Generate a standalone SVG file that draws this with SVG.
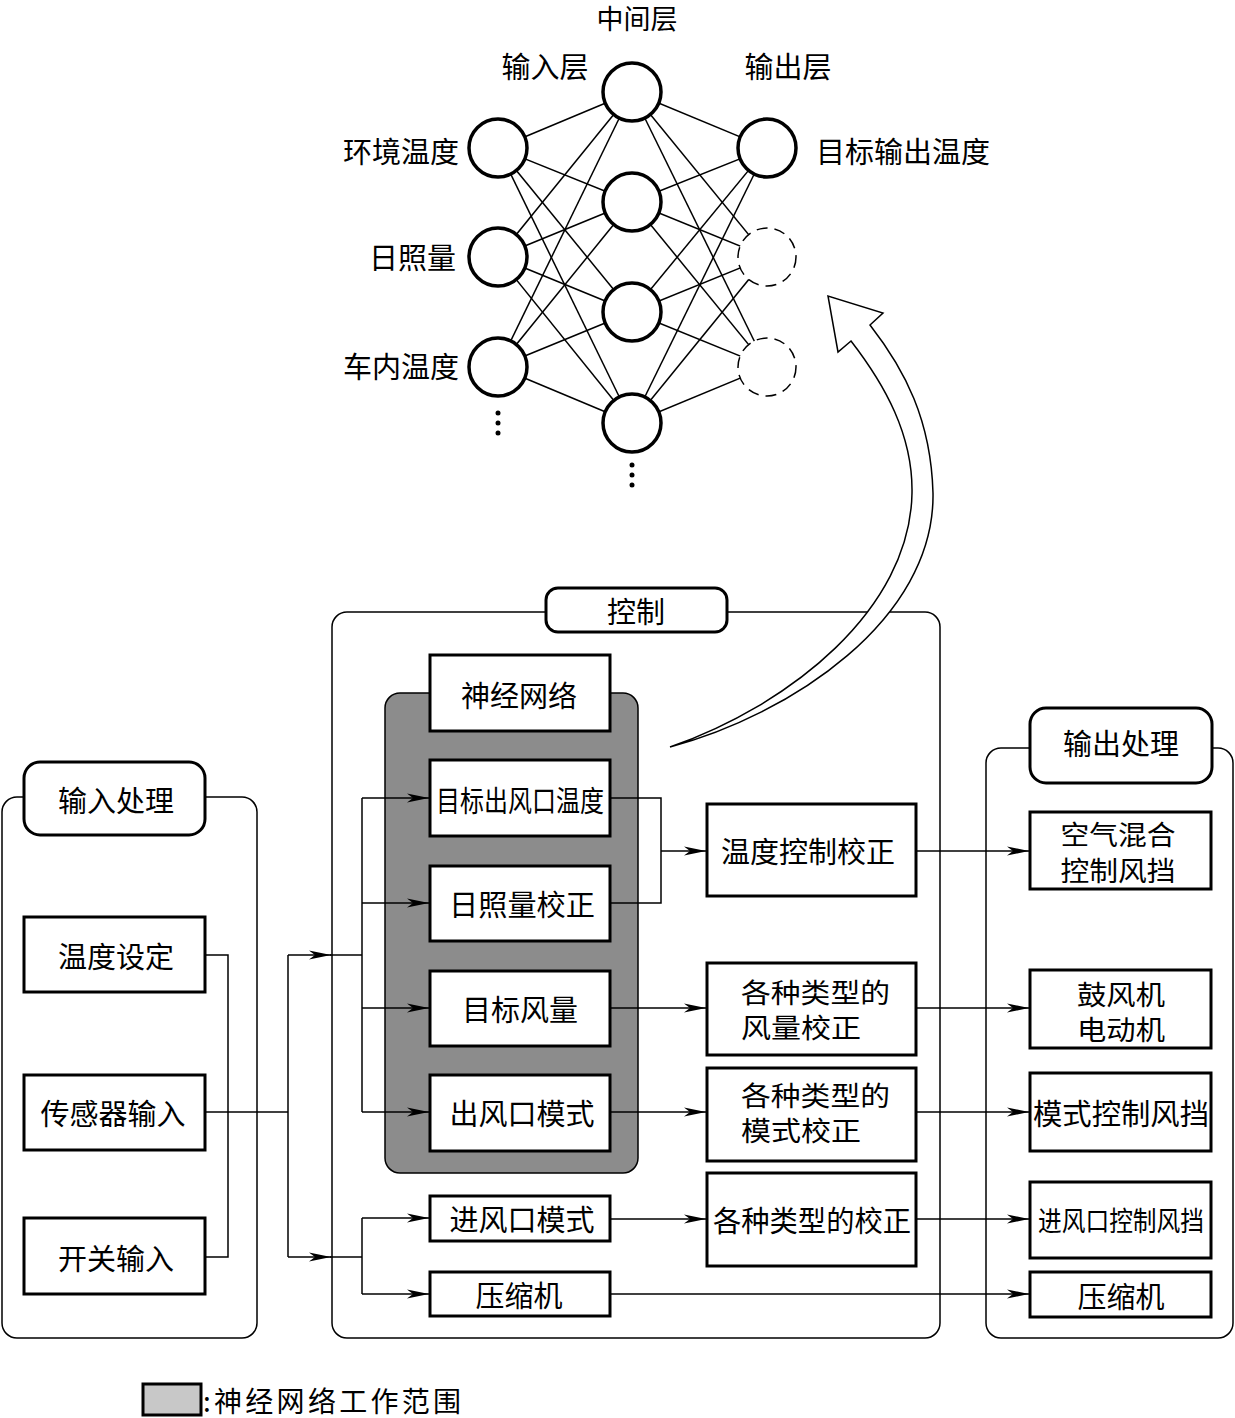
<svg xmlns="http://www.w3.org/2000/svg" width="1235" height="1418" viewBox="0 0 1235 1418">
<style>
.t{font-family:"Noto Sans CJK SC","Noto Sans",sans-serif;font-size:29px;fill:#000;text-anchor:middle;dominant-baseline:central}
.m{font-size:27px}
.s{text-anchor:start}
.e{text-anchor:end}
.box{fill:#fff;stroke:#000;stroke-width:3}
.pill{fill:#fff;stroke:#000;stroke-width:3}
.panel{fill:none;stroke:#000;stroke-width:1.5}
.ln{fill:none;stroke:#000;stroke-width:1.5}
.nl{stroke:#000;stroke-width:1.5}
.nc{fill:#fff;stroke:#000;stroke-width:3.5}
.nd{fill:#fff;stroke:#000;stroke-width:1.5;stroke-dasharray:11 7}
.ar{fill:none;stroke:#000;stroke-width:1.5;marker-end:url(#ah)}
</style>
<defs>
<marker id="ah" markerUnits="userSpaceOnUse" markerWidth="24" markerHeight="12" refX="22" refY="6" orient="auto">
<path d="M0,1.5 L22,6 L0,10.5 L6,6 z" fill="#000"/>
</marker>
</defs>
<rect width="1235" height="1418" fill="#fff"/>

<!-- neural network -->
<g id="nn-lines">
<line class="nl" x1="498" y1="148" x2="632" y2="92"/>
<line class="nl" x1="498" y1="148" x2="632" y2="202"/>
<line class="nl" x1="498" y1="148" x2="632" y2="312"/>
<line class="nl" x1="498" y1="148" x2="632" y2="423"/>
<line class="nl" x1="498" y1="257" x2="632" y2="92"/>
<line class="nl" x1="498" y1="257" x2="632" y2="202"/>
<line class="nl" x1="498" y1="257" x2="632" y2="312"/>
<line class="nl" x1="498" y1="257" x2="632" y2="423"/>
<line class="nl" x1="498" y1="367" x2="632" y2="92"/>
<line class="nl" x1="498" y1="367" x2="632" y2="202"/>
<line class="nl" x1="498" y1="367" x2="632" y2="312"/>
<line class="nl" x1="498" y1="367" x2="632" y2="423"/>
<line class="nl" x1="632" y1="92" x2="767" y2="148"/>
<line class="nl" x1="632" y1="92" x2="767" y2="257"/>
<line class="nl" x1="632" y1="92" x2="767" y2="367"/>
<line class="nl" x1="632" y1="202" x2="767" y2="148"/>
<line class="nl" x1="632" y1="202" x2="767" y2="257"/>
<line class="nl" x1="632" y1="202" x2="767" y2="367"/>
<line class="nl" x1="632" y1="312" x2="767" y2="148"/>
<line class="nl" x1="632" y1="312" x2="767" y2="257"/>
<line class="nl" x1="632" y1="312" x2="767" y2="367"/>
<line class="nl" x1="632" y1="423" x2="767" y2="148"/>
<line class="nl" x1="632" y1="423" x2="767" y2="257"/>
<line class="nl" x1="632" y1="423" x2="767" y2="367"/>
</g>
<g id="nn-in1"><circle class="nc" cx="498" cy="148" r="29"/><text class="t e" x="459" y="150">环境温度</text></g>
<g id="nn-in2"><circle class="nc" cx="498" cy="257" r="29"/><text class="t e" x="456" y="256">日照量</text></g>
<g id="nn-in3"><circle class="nc" cx="498" cy="367" r="29"/><text class="t e" x="459" y="365">车内温度</text></g>
<g id="nn-in-dots"><circle cx="498" cy="413" r="2.5"/><circle cx="498" cy="423" r="2.5"/><circle cx="498" cy="433" r="2.5"/></g>
<g id="nn-mid1"><circle class="nc" cx="632" cy="92" r="29"/></g>
<g id="nn-mid2"><circle class="nc" cx="632" cy="202" r="29"/></g>
<g id="nn-mid3"><circle class="nc" cx="632" cy="312" r="29"/></g>
<g id="nn-mid4"><circle class="nc" cx="632" cy="423" r="29"/></g>
<g id="nn-mid-dots"><circle cx="632" cy="465" r="2.5"/><circle cx="632" cy="475" r="2.5"/><circle cx="632" cy="485" r="2.5"/></g>
<g id="nn-out1"><circle class="nc" cx="767" cy="148" r="29"/><text class="t s" x="816" y="150">目标输出温度</text></g>
<g id="nn-out2"><circle class="nd" cx="767" cy="257" r="29"/></g>
<g id="nn-out3"><circle class="nd" cx="767" cy="367" r="29"/></g>
<g id="nn-labels">
<text class="t m" x="637" y="17">中间层</text>
<text class="t" x="545" y="65">输入层</text>
<text class="t" x="788" y="65">输出层</text>
</g>

<!-- panels -->
<g id="panel-input">
<rect class="panel" x="2" y="797" width="255" height="541" rx="15"/>
<rect class="pill" x="24" y="762" width="181" height="73" rx="16"/>
<text class="t" x="116" y="799">输入处理</text>
</g>
<g id="panel-control">
<rect class="panel" x="332" y="612" width="608" height="726" rx="15"/>
<rect class="pill" x="546" y="588" width="181" height="44" rx="12"/>
<text class="t" x="636" y="610">控制</text>
</g>
<g id="panel-output">
<rect class="panel" x="986" y="748" width="247" height="590" rx="15"/>
<rect class="pill" x="1030" y="708" width="182" height="75" rx="16"/>
<text class="t" x="1121" y="742">输出处理</text>
</g>
<g id="nn-area">
<rect x="385" y="693" width="253" height="480" rx="15" fill="#8c8c8c" stroke="#000" stroke-width="1.5"/>
</g>

<!-- big arrow -->
<g id="feedback-arrow">
<path d="M670,747 C790,715 935,620 933,493 C931,420 905,370 870,325 L883,313 L828,296 L838,352 L851,341 C885,385 913,435 912,493 C910,610 790,705 670,747 Z" fill="#fff" stroke="#000" stroke-width="1.5" stroke-linejoin="miter"/>
</g>

<!-- connectors -->
<g id="connectors">
<polyline class="ln" points="205,955 228,955 228,1257 205,1257"/>
<line class="ln" x1="205" y1="1112" x2="288" y2="1112"/>
<line class="ln" x1="288" y1="955" x2="288" y2="1257"/>
<line class="ar" x1="288" y1="955" x2="331" y2="955"/>
<line class="ln" x1="330" y1="955" x2="362" y2="955"/>
<line class="ar" x1="288" y1="1257" x2="331" y2="1257"/>
<line class="ln" x1="330" y1="1257" x2="362" y2="1257"/>
<line class="ln" x1="362" y1="798" x2="362" y2="1112"/>
<line class="ar" x1="362" y1="798" x2="429" y2="798"/>
<line class="ar" x1="362" y1="903" x2="429" y2="903"/>
<line class="ar" x1="362" y1="1008" x2="429" y2="1008"/>
<line class="ar" x1="362" y1="1112" x2="429" y2="1112"/>
<line class="ln" x1="362" y1="1218" x2="362" y2="1294"/>
<line class="ar" x1="362" y1="1218" x2="429" y2="1218"/>
<line class="ar" x1="362" y1="1294" x2="429" y2="1294"/>
<polyline class="ln" points="610,798 661,798 661,903 610,903"/>
<line class="ar" x1="661" y1="851" x2="706" y2="851"/>
<line class="ar" x1="916" y1="851" x2="1029" y2="851"/>
<line class="ar" x1="610" y1="1008" x2="706" y2="1008"/>
<line class="ar" x1="916" y1="1008" x2="1029" y2="1008"/>
<line class="ar" x1="610" y1="1112" x2="706" y2="1112"/>
<line class="ar" x1="916" y1="1112" x2="1029" y2="1112"/>
<line class="ar" x1="610" y1="1219" x2="706" y2="1219"/>
<line class="ar" x1="916" y1="1219" x2="1029" y2="1219"/>
<line class="ar" x1="610" y1="1294" x2="1029" y2="1294"/>
</g>

<!-- input boxes -->
<g id="n-temp-set"><rect class="box" x="24" y="917" width="181" height="75"/><text class="t" x="116" y="955">温度设定</text></g>
<g id="n-sensor"><rect class="box" x="24" y="1075" width="181" height="75"/><text class="t" x="113" y="1112">传感器输入</text></g>
<g id="n-switch"><rect class="box" x="24" y="1218" width="181" height="76"/><text class="t" x="116" y="1257">开关输入</text></g>

<!-- control boxes -->
<g id="n-nn"><rect class="box" x="430" y="655" width="180" height="76"/><text class="t" x="519" y="694">神经网络</text></g>
<g id="n-target-outlet-temp"><rect class="box" x="430" y="760" width="180" height="76"/><text class="t" x="520" y="799" textLength="168" lengthAdjust="spacingAndGlyphs">目标出风口温度</text></g>
<g id="n-sun-corr"><rect class="box" x="430" y="866" width="180" height="75"/><text class="t" x="522" y="903" textLength="146" lengthAdjust="spacingAndGlyphs">日照量校正</text></g>
<g id="n-target-air"><rect class="box" x="430" y="971" width="180" height="75"/><text class="t" x="520" y="1008">目标风量</text></g>
<g id="n-outlet-mode"><rect class="box" x="430" y="1075" width="180" height="76"/><text class="t" x="522" y="1112">出风口模式</text></g>
<g id="n-inlet-mode"><rect class="box" x="430" y="1196" width="180" height="45"/><text class="t" x="522" y="1218">进风口模式</text></g>
<g id="n-comp-c"><rect class="box" x="430" y="1272" width="180" height="44"/><text class="t" x="519" y="1294">压缩机</text></g>
<g id="n-temp-corr"><rect class="box" x="707" y="804" width="209" height="92"/><text class="t" x="808" y="850">温度控制校正</text></g>
<g id="n-air-corr"><rect class="box" x="707" y="963" width="209" height="92"/><text class="t m s" x="741" y="991" textLength="149" lengthAdjust="spacingAndGlyphs">各种类型的</text><text class="t m s" x="741" y="1026" textLength="120" lengthAdjust="spacingAndGlyphs">风量校正</text></g>
<g id="n-mode-corr"><rect class="box" x="707" y="1068" width="209" height="93"/><text class="t m s" x="741" y="1094" textLength="149" lengthAdjust="spacingAndGlyphs">各种类型的</text><text class="t m s" x="741" y="1129" textLength="120" lengthAdjust="spacingAndGlyphs">模式校正</text></g>
<g id="n-misc-corr"><rect class="box" x="707" y="1173" width="209" height="93"/><text class="t" x="812" y="1219" textLength="198" lengthAdjust="spacingAndGlyphs">各种类型的校正</text></g>

<!-- output boxes -->
<g id="n-airmix"><rect class="box" x="1030" y="812" width="181" height="77"/><text class="t m" x="1118" y="833" textLength="115" lengthAdjust="spacingAndGlyphs">空气混合</text><text class="t m" x="1118" y="869" textLength="115" lengthAdjust="spacingAndGlyphs">控制风挡</text></g>
<g id="n-blower"><rect class="box" x="1030" y="970" width="181" height="78"/><text class="t m" x="1121" y="993" textLength="88" lengthAdjust="spacingAndGlyphs">鼓风机</text><text class="t m" x="1121" y="1028" textLength="88" lengthAdjust="spacingAndGlyphs">电动机</text></g>
<g id="n-mode-door"><rect class="box" x="1030" y="1073" width="181" height="78"/><text class="t" x="1121" y="1112" textLength="176" lengthAdjust="spacingAndGlyphs">模式控制风挡</text></g>
<g id="n-inlet-door"><rect class="box" x="1030" y="1182" width="181" height="76"/><text class="t m" x="1121" y="1219" textLength="166" lengthAdjust="spacingAndGlyphs">进风口控制风挡</text></g>
<g id="n-comp-o"><rect class="box" x="1030" y="1272" width="181" height="45"/><text class="t" x="1121" y="1295">压缩机</text></g>

<!-- legend -->
<g id="legend">
<rect x="143" y="1384" width="58" height="31" fill="#c8c8c8" stroke="#000" stroke-width="3"/>
<text class="t s" x="203" y="1400" style="font-size:28px" textLength="258" lengthAdjust="spacing">:神经网络工作范围</text>
</g>
</svg>
